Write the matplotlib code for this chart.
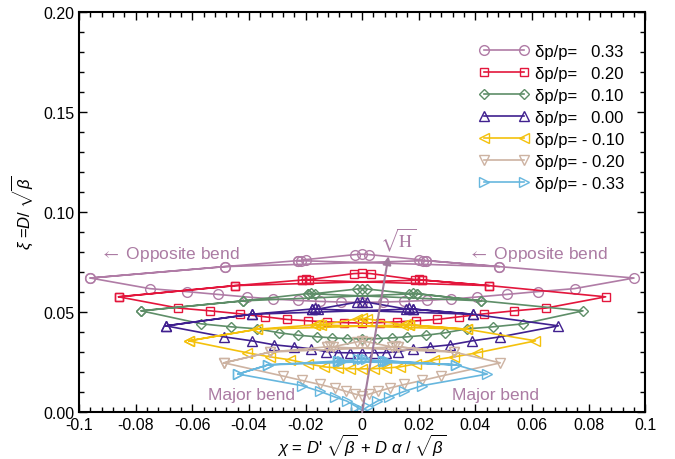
import matplotlib
matplotlib.use("Agg")
import matplotlib.pyplot as plt
from matplotlib.ticker import FixedLocator, FixedFormatter, MultipleLocator

plt.rcParams['font.family'] = ['Liberation Sans', 'DejaVu Sans']
plt.rcParams['mathtext.fontset'] = 'custom'
plt.rcParams['mathtext.rm'] = 'Liberation Sans'
plt.rcParams['mathtext.it'] = 'Liberation Sans:italic'

# upper chain: outer left, mid left, left cluster(3), centre cluster(3), right cluster(3), mid right, outer right
# lower chain: inner points from left to right
up_x_p33 = [-0.096, -0.0485, -0.0227, -0.0215, -0.0200, -0.0025, 0.0, 0.0025, 0.0200, 0.0215, 0.0227, 0.0485, 0.096]
up_y_p33 = [0.0670, 0.0727, 0.0757, 0.0757, 0.0762, 0.0787, 0.0789, 0.0787, 0.0762, 0.0757, 0.0757, 0.0727, 0.0670]
lo_x_p33 = [-0.075, -0.062, -0.051, -0.0405, -0.0315, -0.0228, -0.0148, -0.0074, 0.0,
            0.0074, 0.0148, 0.0228, 0.0315, 0.0405, 0.051, 0.062, 0.075]
lo_y_p33 = [0.0617, 0.0602, 0.0588, 0.0575, 0.0565, 0.0558, 0.0553, 0.0550, 0.0548,
            0.0550, 0.0553, 0.0558, 0.0565, 0.0575, 0.0588, 0.0602, 0.0617]

up_x_p20 = [-0.086, -0.0449, -0.0212, -0.0200, -0.0188, -0.0030, 0.0, 0.0030, 0.0188, 0.0200, 0.0212, 0.0449, 0.086]
up_y_p20 = [0.0576, 0.0632, 0.0660, 0.0664, 0.0662, 0.0692, 0.0694, 0.0692, 0.0662, 0.0664, 0.0660, 0.0632, 0.0576]
lo_x_p20 = [-0.065, -0.0537, -0.0431, -0.0342, -0.0265, -0.0191, -0.0124, -0.0063, 0.0,
            0.0063, 0.0124, 0.0191, 0.0265, 0.0342, 0.0431, 0.0537, 0.065]
lo_y_p20 = [0.0520, 0.0506, 0.0491, 0.0476, 0.0463, 0.0456, 0.0451, 0.0447, 0.0445,
            0.0447, 0.0451, 0.0456, 0.0463, 0.0476, 0.0491, 0.0506, 0.0520]

up_x_p10 = [-0.078, -0.042, -0.0192, -0.0179, -0.0167, -0.0018, 0.0, 0.0018, 0.0167, 0.0179, 0.0192, 0.042, 0.078]
up_y_p10 = [0.0506, 0.0556, 0.0592, 0.0594, 0.0592, 0.0615, 0.0617, 0.0615, 0.0592, 0.0594, 0.0592, 0.0556, 0.0506]
lo_x_p10 = [-0.0568, -0.0462, -0.037, -0.0292, -0.0226, -0.0158, -0.0106, -0.0053, 0.0,
            0.0053, 0.0106, 0.0158, 0.0226, 0.0292, 0.037, 0.0462, 0.0568]
lo_y_p10 = [0.0441, 0.0426, 0.0416, 0.0396, 0.0384, 0.0376, 0.0371, 0.0367, 0.0366,
            0.0367, 0.0371, 0.0376, 0.0384, 0.0396, 0.0416, 0.0426, 0.0441]

up_x_p00 = [-0.0693, -0.039, -0.0178, -0.0167, -0.0156, -0.0018, 0.0, 0.0018, 0.0156, 0.0167, 0.0178, 0.039, 0.0693]
up_y_p00 = [0.0431, 0.0489, 0.0515, 0.0518, 0.0515, 0.0549, 0.0551, 0.0549, 0.0515, 0.0518, 0.0515, 0.0489, 0.0431]
lo_x_p00 = [-0.0488, -0.0389, -0.031, -0.024, -0.018, -0.0127, -0.0085, -0.0042, 0.0,
            0.0042, 0.0085, 0.0127, 0.018, 0.024, 0.031, 0.0389, 0.0488]
lo_y_p00 = [0.0376, 0.0356, 0.0336, 0.0326, 0.0316, 0.0302, 0.0297, 0.0296, 0.0296,
            0.0296, 0.0297, 0.0302, 0.0316, 0.0326, 0.0336, 0.0356, 0.0376]

up_x_m10 = [-0.0612, -0.0371, -0.0165, -0.0155, -0.0145, -0.0018, 0.0, 0.0018, 0.0145, 0.0155, 0.0165, 0.0371, 0.0612]
up_y_m10 = [0.0356, 0.0414, 0.0436, 0.0438, 0.0436, 0.0466, 0.0468, 0.0466, 0.0436, 0.0438, 0.0436, 0.0414, 0.0356]
lo_x_m10 = [-0.0405, -0.0325, -0.0254, -0.019, -0.0134, -0.0085, -0.0042, 0.0,
            0.0042, 0.0085, 0.0134, 0.019, 0.0254, 0.0325, 0.0405]
lo_y_m10 = [0.0296, 0.0276, 0.0261, 0.0241, 0.0226, 0.0220, 0.0217, 0.0216,
            0.0217, 0.0220, 0.0226, 0.0241, 0.0261, 0.0276, 0.0296]

up_x_m20 = [-0.0488, -0.0325, -0.0125, -0.0115, -0.0104, -0.0018, 0.0, 0.0018, 0.0104, 0.0115, 0.0125, 0.0325, 0.0488]
up_y_m20 = [0.0246, 0.0300, 0.0326, 0.0328, 0.0326, 0.0351, 0.0353, 0.0351, 0.0326, 0.0328, 0.0326, 0.0300, 0.0246]
lo_x_m20 = [-0.0279, -0.0212, -0.0149, -0.0097, -0.0056, -0.0025, 0.0,
            0.0025, 0.0056, 0.0097, 0.0149, 0.0212, 0.0279]
lo_y_m20 = [0.0180, 0.0158, 0.0138, 0.0120, 0.0103, 0.0090, 0.0082,
            0.0090, 0.0103, 0.0120, 0.0138, 0.0158, 0.0180]

up_x_m33 = [-0.0438, -0.0332, -0.0087, -0.0080, -0.0072, -0.0015, 0.0, 0.0015, 0.0072, 0.0080, 0.0087, 0.0332, 0.0442]
up_y_m33 = [0.0190, 0.0236, 0.0255, 0.0256, 0.0255, 0.0264, 0.0266, 0.0264, 0.0255, 0.0256, 0.0255, 0.0236, 0.0190]
lo_x_m33 = [-0.0212, -0.0148, -0.0095, -0.0054, -0.0020, 0.0,
            0.0020, 0.0054, 0.0095, 0.0148, 0.0212]
lo_y_m33 = [0.0132, 0.0103, 0.0075, 0.0055, 0.0027, 0.0008,
            0.0027, 0.0055, 0.0075, 0.0103, 0.0132]

labels = ['\u03b4p/p=   0.33', '\u03b4p/p=   0.20', '\u03b4p/p=   0.10', '\u03b4p/p=   0.00',
          '\u03b4p/p= - 0.10', '\u03b4p/p= - 0.20', '\u03b4p/p= - 0.33']
colors = ['#b07ca6', '#e3163c', '#5e8e68', '#40208f', '#f4c10c', '#cdb3a2', '#67b7de']
markers = ['o', 's', 'D', '^', '<', 'v', '>']
msizes = [7, 6, 5, 6.5, 7, 7, 7]

series = [(up_x_p33, up_y_p33, lo_x_p33, lo_y_p33),
          (up_x_p20, up_y_p20, lo_x_p20, lo_y_p20),
          (up_x_p10, up_y_p10, lo_x_p10, lo_y_p10),
          (up_x_p00, up_y_p00, lo_x_p00, lo_y_p00),
          (up_x_m10, up_y_m10, lo_x_m10, lo_y_m10),
          (up_x_m20, up_y_m20, lo_x_m20, lo_y_m20),
          (up_x_m33, up_y_m33, lo_x_m33, lo_y_m33)]

xtick_vals = [-0.1, -0.08, -0.06, -0.04, -0.02, 0.0, 0.02, 0.04, 0.06, 0.08, 0.1]
xtick_labels = ['-0.1', '-0.08', '-0.06', '-0.04', '-0.02', '0', '0.02', '0.04', '0.06', '0.08', '0.1']
ytick_vals = [0.0, 0.05, 0.10, 0.15, 0.20]
ytick_labels = ['0.00', '0.05', '0.10', '0.15', '0.20']

sqrtH_tail = (0.0, 0.0)
sqrtH_head = (0.0093, 0.0779)
note_color = '#ab7ba3'


def trace(ux, uy, lx, ly):
    # closed loop + the two crossing links between mid points and clusters
    px = list(ux) + list(lx[::-1]) + [ux[0], ux[1], ux[10], ux[11], ux[2]]
    py = list(uy) + list(ly[::-1]) + [uy[0], uy[1], uy[10], uy[11], uy[2]]
    return px, py


fig, ax = plt.subplots(figsize=(6.75, 4.6), dpi=100)
fig.subplots_adjust(left=0.117, right=0.956, bottom=0.102, top=0.972)

for (ux, uy, lx, ly), lab, c, m, ms in zip(series, labels, colors, markers, msizes):
    px, py = trace(ux, uy, lx, ly)
    ax.plot(px, py, color=c, marker=m, ms=ms, mfc='none', mec=c, mew=1.0, lw=1.2, label=lab)

ax.annotate('', xy=sqrtH_head, xytext=sqrtH_tail,
            arrowprops=dict(arrowstyle='-|>', color='#a27c9c', lw=1.5, mutation_scale=12,
                            shrinkA=0, shrinkB=0))
ax.text(0.0128, 0.0865, r'$\sqrt{\mathrm{H}}$', color=note_color, fontsize=13,
        ha='center', va='center', math_fontfamily='stix')

ax.text(-0.0925, 0.0795, r'$\leftarrow$ Opposite bend', color=note_color, fontsize=12.5,
        va='center', math_fontfamily='stix')
ax.text(0.0375, 0.0795, r'$\leftarrow$ Opposite bend', color=note_color, fontsize=12.5,
        va='center', math_fontfamily='stix')
ax.text(-0.0545, 0.009, 'Major bend', color=note_color, fontsize=12.5, va='center')
ax.text(0.0316, 0.009, 'Major bend', color=note_color, fontsize=12.5, va='center')

ax.set_xlim(-0.1, 0.1)
ax.set_ylim(0.0, 0.2)
ax.xaxis.set_major_locator(FixedLocator(xtick_vals))
ax.xaxis.set_major_formatter(FixedFormatter(xtick_labels))
ax.xaxis.set_minor_locator(MultipleLocator(0.004))
ax.yaxis.set_major_locator(FixedLocator(ytick_vals))
ax.yaxis.set_major_formatter(FixedFormatter(ytick_labels))
ax.yaxis.set_minor_locator(MultipleLocator(0.01))
ax.tick_params(which='both', direction='in', top=True, right=True, labelsize=11.5)
ax.tick_params(which='major', length=6, width=1.0)
ax.tick_params(which='minor', length=3.5, width=1.0)
for sp in ax.spines.values():
    sp.set_linewidth(1.5)

ax.set_xlabel(r"$\chi$ = $D$' $\sqrt{\beta}$ + $D$ $\alpha$ / $\sqrt{\beta}$", fontsize=12, labelpad=0)
ax.set_ylabel(r"$\xi$ =$D$/ $\sqrt{\beta}$", fontsize=12, labelpad=6)

ax.legend(loc='upper right', bbox_to_anchor=(0.99, 0.958), frameon=False, numpoints=2,
          handlelength=3.0, fontsize=12, labelspacing=0.42, handletextpad=0.4)

plt.savefig('out.png', dpi=100)
